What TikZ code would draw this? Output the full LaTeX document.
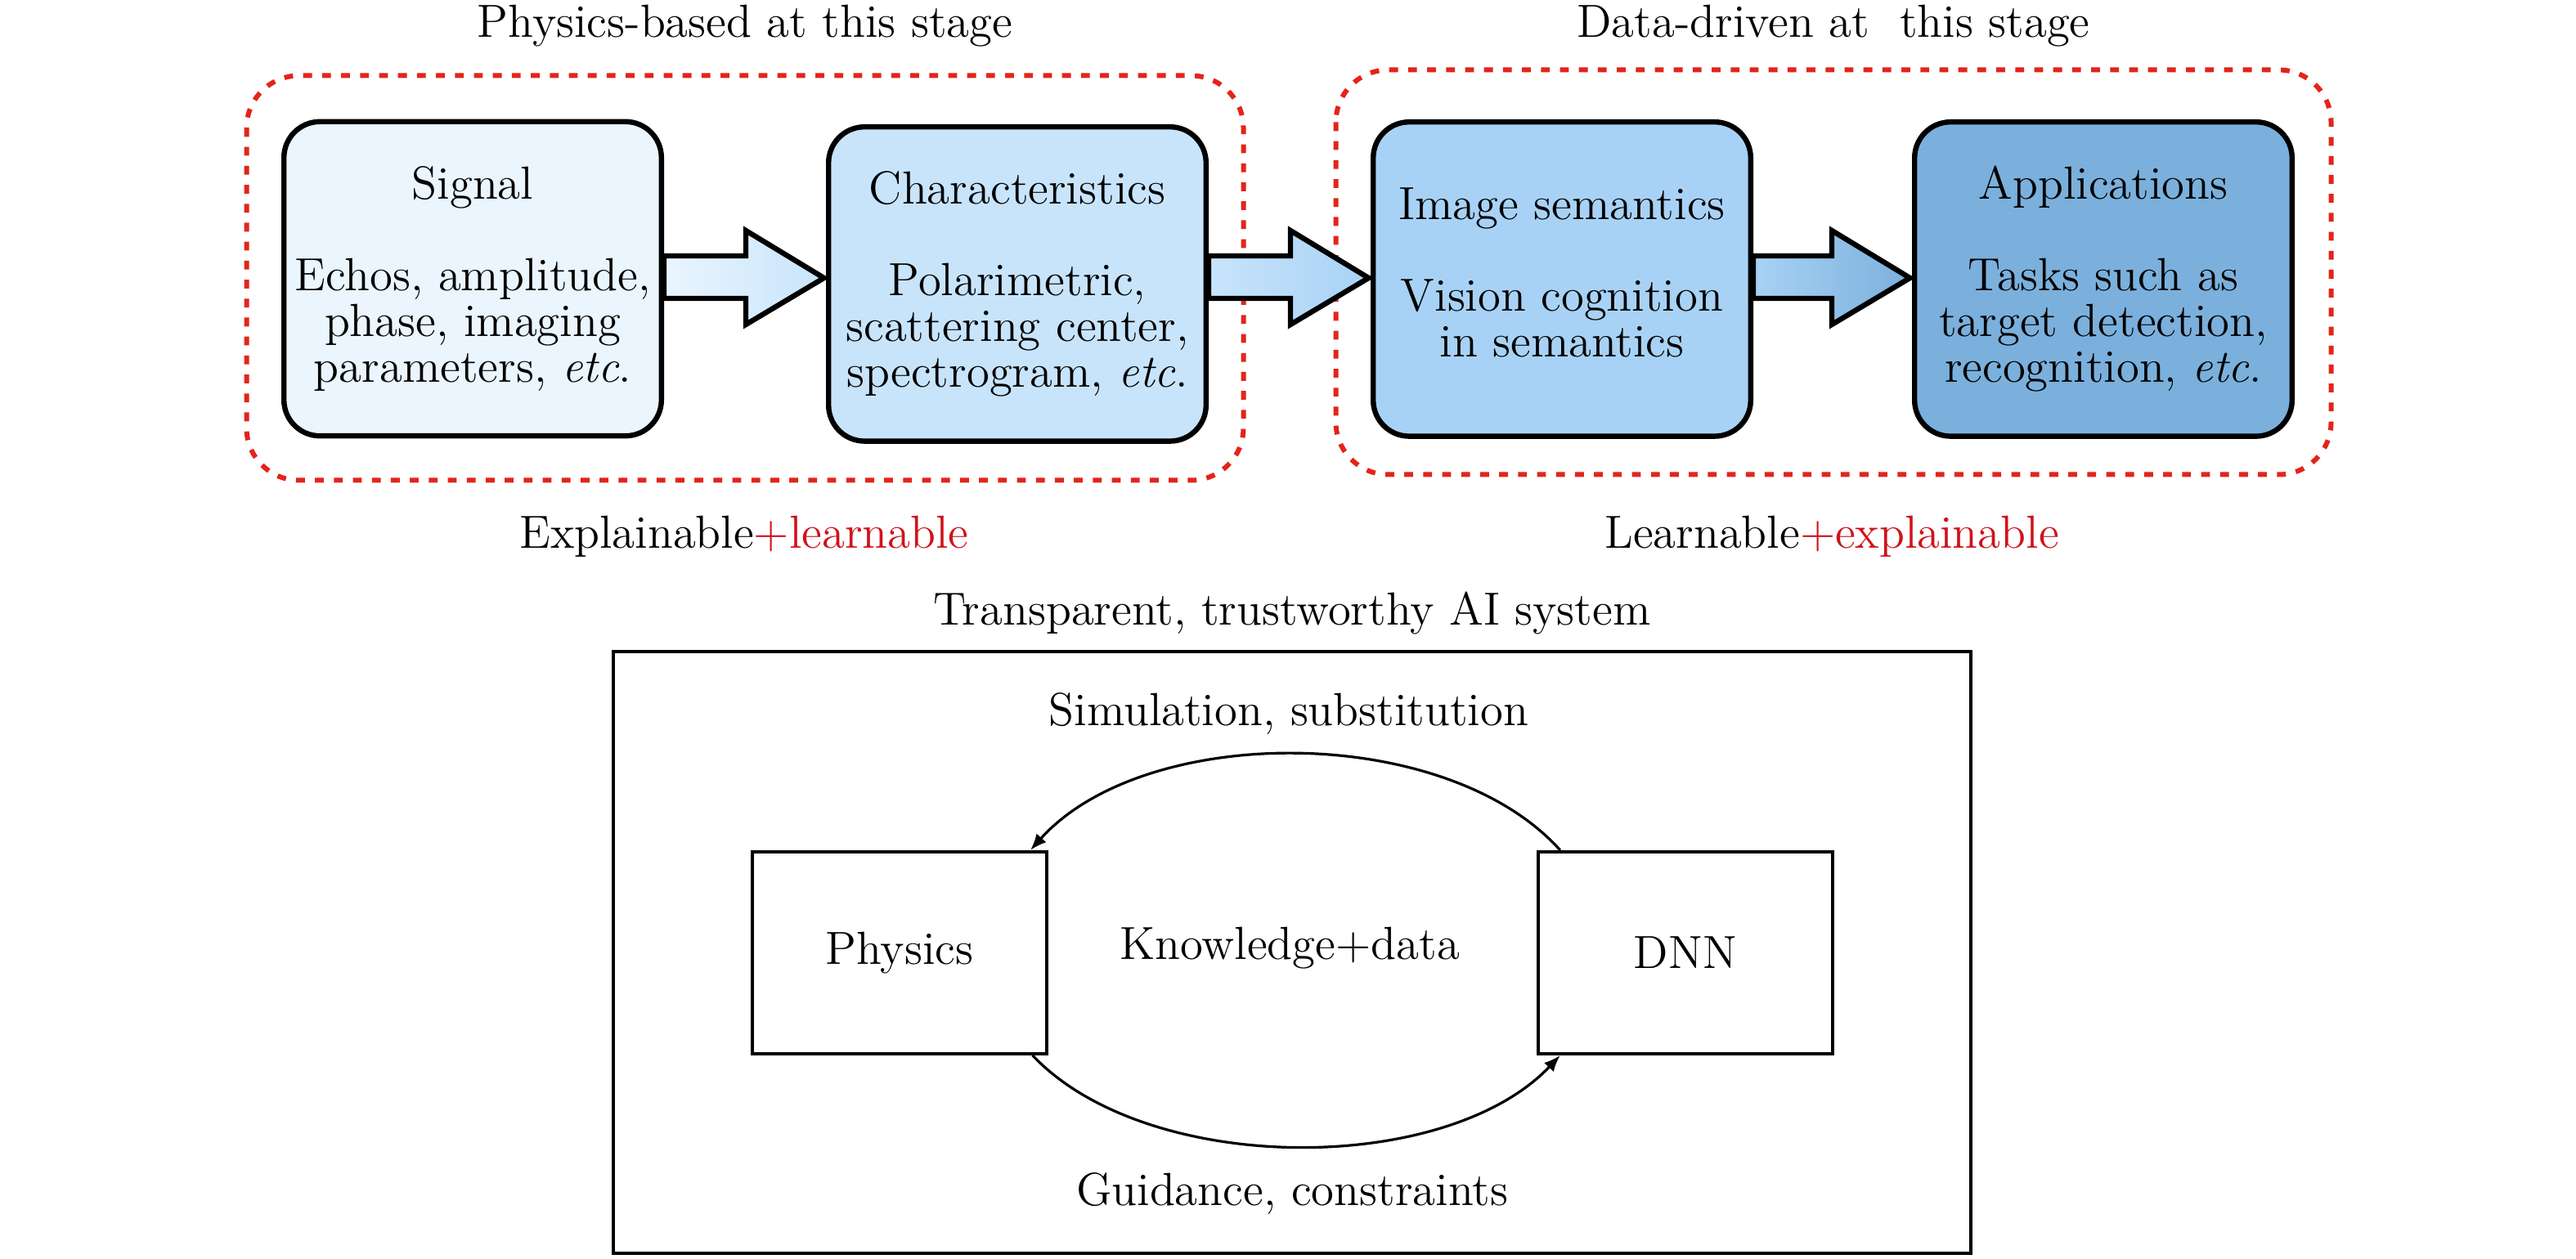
\documentclass[tikz,border=0pt]{standalone}
\usepackage{fontspec}
\usetikzlibrary{calc,arrows.meta}
\definecolor{sigfill}{HTML}{EAF5FE}
\definecolor{chrfill}{HTML}{C8E4FB}
\definecolor{imgfill}{HTML}{A8D2F5}
\definecolor{appfill}{HTML}{7BB0DC}
\definecolor{redline}{HTML}{E3241B}
\definecolor{redtext}{HTML}{D0121B}
\newcommand\fatarrow[4]{%
  \path[flow, left color=#3, right color=#4] let \p1=(#1.east), \p2=(#2.west) in
    (\x1,-78.25pt) -- (\x2-24.5pt,-78.25pt) -- (\x2-24.5pt,-70.5pt) -- (\x2-0.6pt,-85pt)
    -- (\x2-24.5pt,-99.25pt) -- (\x2-24.5pt,-91.25pt) -- (\x1,-91.25pt) -- cycle;}
\begin{document}
\begin{tikzpicture}[x=0.5pt,y=-0.5pt,
  font=\fontsize{14.2}{14}\selectfont,
  stagebox/.style={draw=black, line width=1.6pt, rounded corners=11pt,
    minimum width=115.4pt, minimum height=96.1pt, align=center, inner sep=0pt},
  groupbox/.style={draw=redline, line width=1.5pt, dash pattern=on 2.7pt off 3.1pt,
    rounded corners=16pt},
  plainbox/.style={draw=black, line width=1pt, minimum width=90pt,
    minimum height=61.75pt, inner sep=0pt},
  flow/.style={draw=black, line width=1.6pt, line join=miter},
  loop/.style={draw=black, line width=0.8pt, -{Latex[length=5pt,width=4pt]}},
  lbl/.style={inner sep=0pt, align=center}]
\useasboundingbox (0,0) rectangle (1575,770);

% red dashed groups
\draw[groupbox] (150.75,46.25) rectangle (760.25,293.75);
\draw[groupbox] (816.75,42.75) rectangle (1425.25,290.25);

% stage boxes
\node[stagebox, fill=sigfill] (sig) at (289,170.5)
  {Signal\\[14pt]Echos, amplitude,\\phase, imaging\\parameters, \textit{etc}.};
\node[stagebox, fill=chrfill] (chr) at (622,173.7)
  {Characteristics\\[14pt]Polarimetric,\\scattering center,\\spectrogram, \textit{etc}.};
\node[stagebox, fill=imgfill] (img) at (955,170.7)
  {Image semantics\\[14pt]Vision cognition\\in semantics\rule[-4pt]{0pt}{0pt}};
\node[stagebox, fill=appfill] (app) at (1286,170.7)
  {Applications\\[14pt]Tasks such as\\target detection,\\recognition, \textit{etc}.};

% fat arrows
\fatarrow{sig}{chr}{sigfill}{chrfill}
\fatarrow{chr}{img}{chrfill}{imgfill}
\fatarrow{img}{app}{imgfill}{appfill}

% group labels
\node[lbl] (phyl) at (455.5,16) {Physics-based at this stage};
\node[lbl] (datl) at (1121,16) {Data-driven at~ this stage};
\node[lbl] (expl) at (455,328) {Explainable{\color{redtext}+learnable}};
\node[lbl] (lrnl) at (1120,328) {Learnable{\color{redtext}+explainable}};

% bottom system
\node[lbl] (sysl) at (790,375) {Transparent, trustworthy AI system};
\draw[line width=1pt] (375,398.5) rectangle (1205,766.5);
\node[plainbox] (phys) at (550,582.7) {Physics};
\node[plainbox] (dnn) at (1030.4,582.7) {DNN};
\node[lbl] (kd) at (788.5,580) {Knowledge+data};
\node[lbl] (siml) at (788,436.5) {Simulation, substitution};
\node[lbl] (guil) at (790,730) {Guidance, constraints};

\coordinate (ta) at ($(dnn.north west)+(14.5,0)$);
\coordinate (tb) at ($(phys.north east)+(-11,0)$);
\coordinate (ba) at ($(phys.south east)+(-9.7,0)$);
\coordinate (bb) at ($(dnn.south west)+(14.5,0)$);
\draw[loop] (ta) .. controls +(-70,-78) and +(70,-78) .. (tb);
\draw[loop] (ba) .. controls +(70,74) and +(-70,74) .. (bb);
\end{tikzpicture}
\end{document}
